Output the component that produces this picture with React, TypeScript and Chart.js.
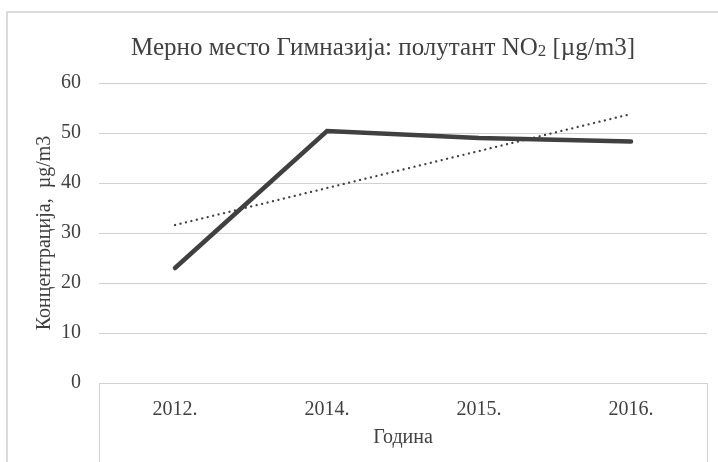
import React, { useEffect, useRef } from "react";
import { Chart, registerables } from "chart.js";

Chart.register(...registerables);

const categories = ["2012.", "2014.", "2015.", "2016."];
const no2Values = [23.0, 50.4, 49.0, 48.3];
const trendValues = [31.6, 39.0, 46.4, 53.8];
const yTicks = [0, 10, 20, 30, 40, 50, 60];

const titleMain = "Мерно место Гимназија: полутант NO";
const titleSub = "2";
const titleEnd = " [µg/m3]";
const yTitle = "Концентрација,  µg/m3";
const xTitle = "Година";

const FONT = "'Liberation Serif', 'Times New Roman', serif";
const TEXT = "#404040";
const GRID = "#d0d0d0";

const framePlugin = {
  id: "frame",
  beforeDraw(chart: any) {
    const { ctx, chartArea, width, height } = chart;
    ctx.save();
    ctx.fillStyle = "#ffffff";
    ctx.fillRect(0, 0, width, height);
    ctx.strokeStyle = GRID;
    ctx.lineWidth = 1.5;
    ctx.beginPath();
    ctx.moveTo(7, height + 2);
    ctx.lineTo(7, 12);
    ctx.lineTo(width + 2, 12);
    ctx.stroke();
    ctx.lineWidth = 1;
    ctx.beginPath();
    ctx.moveTo(Math.round(chartArea.left) + 0.5, chartArea.bottom);
    ctx.lineTo(Math.round(chartArea.left) + 0.5, height);
    ctx.moveTo(Math.round(chartArea.right) + 0.5, chartArea.bottom);
    ctx.lineTo(Math.round(chartArea.right) + 0.5, height);
    ctx.stroke();
    ctx.restore();
  },
  afterDraw(chart: any) {
    const { ctx } = chart;
    ctx.save();
    ctx.fillStyle = TEXT;
    ctx.textBaseline = "alphabetic";
    const big = `25px ${FONT}`;
    const small = `17px ${FONT}`;
    ctx.font = big;
    const w1 = ctx.measureText(titleMain).width;
    const w3 = ctx.measureText(titleEnd).width;
    ctx.font = small;
    const w2 = ctx.measureText(titleSub).width;
    const total = w1 + w2 + w3;
    const cx = 383;
    let x = cx - total / 2;
    const y = 55;
    ctx.textAlign = "left";
    ctx.font = big;
    ctx.fillText(titleMain, x, y);
    x += w1;
    ctx.font = small;
    ctx.fillText(titleSub, x, y + 1);
    x += w2;
    ctx.font = big;
    ctx.fillText(titleEnd, x, y);
    ctx.restore();
  },
};

export default function App() {
  const ref = useRef<HTMLCanvasElement | null>(null);

  useEffect(() => {
    document.body.style.margin = "0";
    const canvas = ref.current;
    if (!canvas) return;
    const chart = new Chart(canvas, {
      type: "line",
      data: {
        labels: categories,
        datasets: [
          {
            label: "NO2",
            data: no2Values,
            borderColor: "#404040",
            borderWidth: 4.5,
            pointRadius: 0,
            tension: 0,
            fill: false,
            borderCapStyle: "round",
            borderJoinStyle: "miter",
          },
          {
            label: "Trend",
            data: trendValues,
            borderColor: "#404040",
            borderWidth: 2.25,
            borderDash: [0.1, 5.5],
            borderCapStyle: "round",
            pointRadius: 0,
            tension: 0,
            fill: false,
          },
        ],
      },
      plugins: [framePlugin],
      options: {
        animation: false,
        responsive: false,
        maintainAspectRatio: false,
        layout: { padding: { top: 83, left: 0, right: 11, bottom: 0 } },
        plugins: {
          legend: { display: false },
          title: { display: false },
          tooltip: { enabled: false },
        },
        scales: {
          x: {
            type: "category",
            offset: true,
            grid: { display: false, drawTicks: false },
            border: { display: true, color: GRID, width: 1 },
            ticks: {
              color: TEXT,
              font: { family: FONT, size: 20 },
              padding: 15,
              maxRotation: 0,
            },
            title: {
              display: true,
              text: xTitle,
              color: TEXT,
              font: { family: FONT, size: 20 },
              padding: { top: 0, bottom: 12 },
            },
            afterFit(scale: any) {
              scale.height = 79;
            },
          },
          y: {
            min: 0,
            max: 60,
            afterBuildTicks(scale: any) {
              scale.ticks = yTicks.map((v) => ({ value: v }));
            },
            grid: { color: GRID, lineWidth: 1, drawTicks: false },
            border: { display: false },
            ticks: {
              color: TEXT,
              font: { family: FONT, size: 20 },
              padding: 18,
            },
            title: {
              display: true,
              text: yTitle,
              color: TEXT,
              font: { family: FONT, size: 20 },
              padding: { top: 33, bottom: 0 },
            },
            afterFit(scale: any) {
              scale.width = 99;
            },
          },
        },
      },
    });
    return () => chart.destroy();
  }, []);

  return (
    <div style={{ position: "absolute", left: 0, top: 0, width: 718, height: 462, background: "#fff" }}>
      <canvas ref={ref} width={718} height={462} style={{ width: 718, height: 462, display: "block" }} />
    </div>
  );
}
